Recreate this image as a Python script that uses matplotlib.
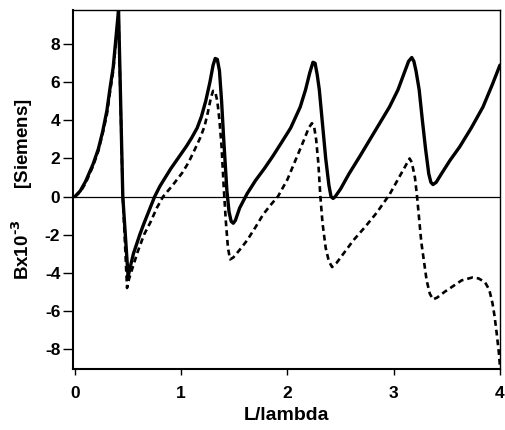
import matplotlib
matplotlib.use("Agg")
import matplotlib.pyplot as plt

# Solid curve
solid_x = [0.00, 0.05, 0.10, 0.17, 0.22, 0.26, 0.30, 0.33, 0.36, 0.38, 0.40, 0.41,
           0.45, 0.50, 0.52, 0.55, 0.58, 0.61, 0.65, 0.70, 0.75, 0.80, 0.85, 0.90, 0.95,
           1.00, 1.05, 1.10, 1.15, 1.19, 1.23, 1.27, 1.30, 1.32, 1.34, 1.36, 1.38, 1.40,
           1.43, 1.45, 1.47, 1.49, 1.51, 1.55, 1.62, 1.70, 1.78, 1.86, 1.94, 2.03, 2.12,
           2.17, 2.21, 2.24, 2.26, 2.28, 2.30, 2.33, 2.36, 2.39, 2.41, 2.43, 2.45, 2.50,
           2.58, 2.68, 2.82, 2.96, 3.04, 3.10, 3.14, 3.17, 3.19, 3.21, 3.24, 3.27, 3.30,
           3.33, 3.35, 3.37, 3.40, 3.45, 3.53, 3.62, 3.73, 3.84, 3.93, 4.00]
solid_y = [0.0, 0.3, 0.8, 1.7, 2.5, 3.4, 4.5, 5.7, 6.8, 8.0, 9.2, 9.8,
           0.0, -4.2, -3.7, -3.0, -2.5, -2.0, -1.4, -0.7, 0.0, 0.55, 1.0, 1.45, 1.85,
           2.25, 2.65, 3.1, 3.6, 4.2, 5.0, 6.0, 6.9, 7.25, 7.2, 6.6, 5.0, 3.0,
           0.3, -0.8, -1.3, -1.4, -1.25, -0.6, 0.15, 0.85, 1.45, 2.1, 2.8, 3.6, 4.7,
           5.6, 6.5, 7.05, 7.0, 6.4, 5.6, 3.8, 2.0, 0.6, 0.0, -0.1, 0.0, 0.4,
           1.2, 2.1, 3.4, 4.7, 5.6, 6.5, 7.1, 7.3, 7.1, 6.6, 5.6, 4.0, 2.5,
           1.2, 0.75, 0.63, 0.75, 1.2, 1.9, 2.6, 3.6, 4.7, 5.9, 6.9]

# Dashed curve
dash_x = [0.00, 0.05, 0.10, 0.17, 0.22, 0.26, 0.30, 0.33, 0.36, 0.38, 0.40, 0.41,
          0.45, 0.49, 0.51, 0.55, 0.59, 0.65, 0.71, 0.77, 0.83, 0.92, 1.01, 1.07, 1.13,
          1.18, 1.22, 1.25, 1.28, 1.30, 1.32, 1.34, 1.36, 1.38, 1.40, 1.42, 1.44, 1.46,
          1.49, 1.55, 1.62, 1.70, 1.77, 1.84, 1.91, 2.00, 2.09, 2.15, 2.20, 2.23, 2.25,
          2.27, 2.29, 2.31, 2.33, 2.36, 2.39, 2.42, 2.46, 2.54, 2.62, 2.73, 2.84, 2.96,
          3.05, 3.11, 3.15, 3.17, 3.20, 3.22, 3.24, 3.26, 3.29, 3.31, 3.34, 3.37, 3.41,
          3.48, 3.56, 3.64, 3.74, 3.80, 3.86, 3.90, 3.93, 3.95, 3.97, 3.99, 4.00]
dash_y = [0.0, 0.25, 0.7, 1.6, 2.4, 3.3, 4.3, 5.5, 6.6, 7.8, 9.0, 9.5,
          0.0, -4.8, -4.3, -3.6, -2.9, -2.0, -1.35, -0.6, 0.0, 0.6, 1.25, 1.8, 2.5,
          3.1, 3.7, 4.4, 5.2, 5.55, 5.5, 5.0, 4.0, 2.6, 0.5, -1.3, -2.7, -3.3,
          -3.2, -2.8, -2.3, -1.6, -0.95, -0.45, 0.0, 0.9, 2.1, 2.9, 3.6, 3.85, 3.7,
          3.0, 1.8, 0.0, -1.4, -2.7, -3.4, -3.7, -3.5, -2.9, -2.3, -1.6, -0.85, 0.1,
          1.0, 1.6, 2.0, 1.8, 1.0, 0.0, -1.2, -2.4, -3.6, -4.4, -5.1, -5.4, -5.3,
          -5.0, -4.7, -4.4, -4.25, -4.3, -4.5, -4.9, -5.6, -6.3, -7.2, -8.2, -8.9]

xticks = [0, 1, 2, 3, 4]
yticks = [-8, -6, -4, -2, 0, 2, 4, 6, 8]

plt.rcParams['font.family'] = ['Liberation Sans', 'DejaVu Sans']
plt.rcParams['font.weight'] = 'bold'
plt.rcParams['axes.unicode_minus'] = False
plt.rcParams['mathtext.default'] = 'bf'

fig = plt.figure(figsize=(5.06, 4.30), dpi=100)
ax = fig.add_axes([0.144, 0.142, 0.844, 0.835])

ax.axhline(0, color='black', lw=0.9, zorder=1)
ax.plot(solid_x, solid_y, color='black', lw=2.4, solid_joinstyle='round',
        solid_capstyle='round', zorder=3)
ax.plot(dash_x, dash_y, color='black', lw=1.9, dashes=(2.2, 1.5), zorder=2)

ax.set_xlim(-0.02, 4.0)
ax.set_ylim(-9.05, 9.8)
ax.set_xticks(xticks)
ax.set_yticks(yticks)
ax.set_xticklabels([str(v) for v in xticks], fontsize=12.5, fontweight='bold')
ax.set_yticklabels([str(v) for v in yticks], fontsize=12.5, fontweight='bold')
ax.tick_params(axis='x', direction='out', length=4.5, width=1.0, pad=8)
ax.tick_params(axis='y', direction='out', length=7, width=1.0, pad=2)

for s in ['left', 'bottom']:
    ax.spines[s].set_linewidth(1.5)
for s in ['top', 'right']:
    ax.spines[s].set_linewidth(1.0)

ax.set_xlabel('L/lambda', fontsize=14, fontweight='bold', labelpad=4)
ax.set_ylabel(r'Bx10$^{\text{-}3}$' + '      [Siemens]', fontsize=13.5,
              fontweight='bold', labelpad=7)

fig.savefig('out.png', dpi=100)
